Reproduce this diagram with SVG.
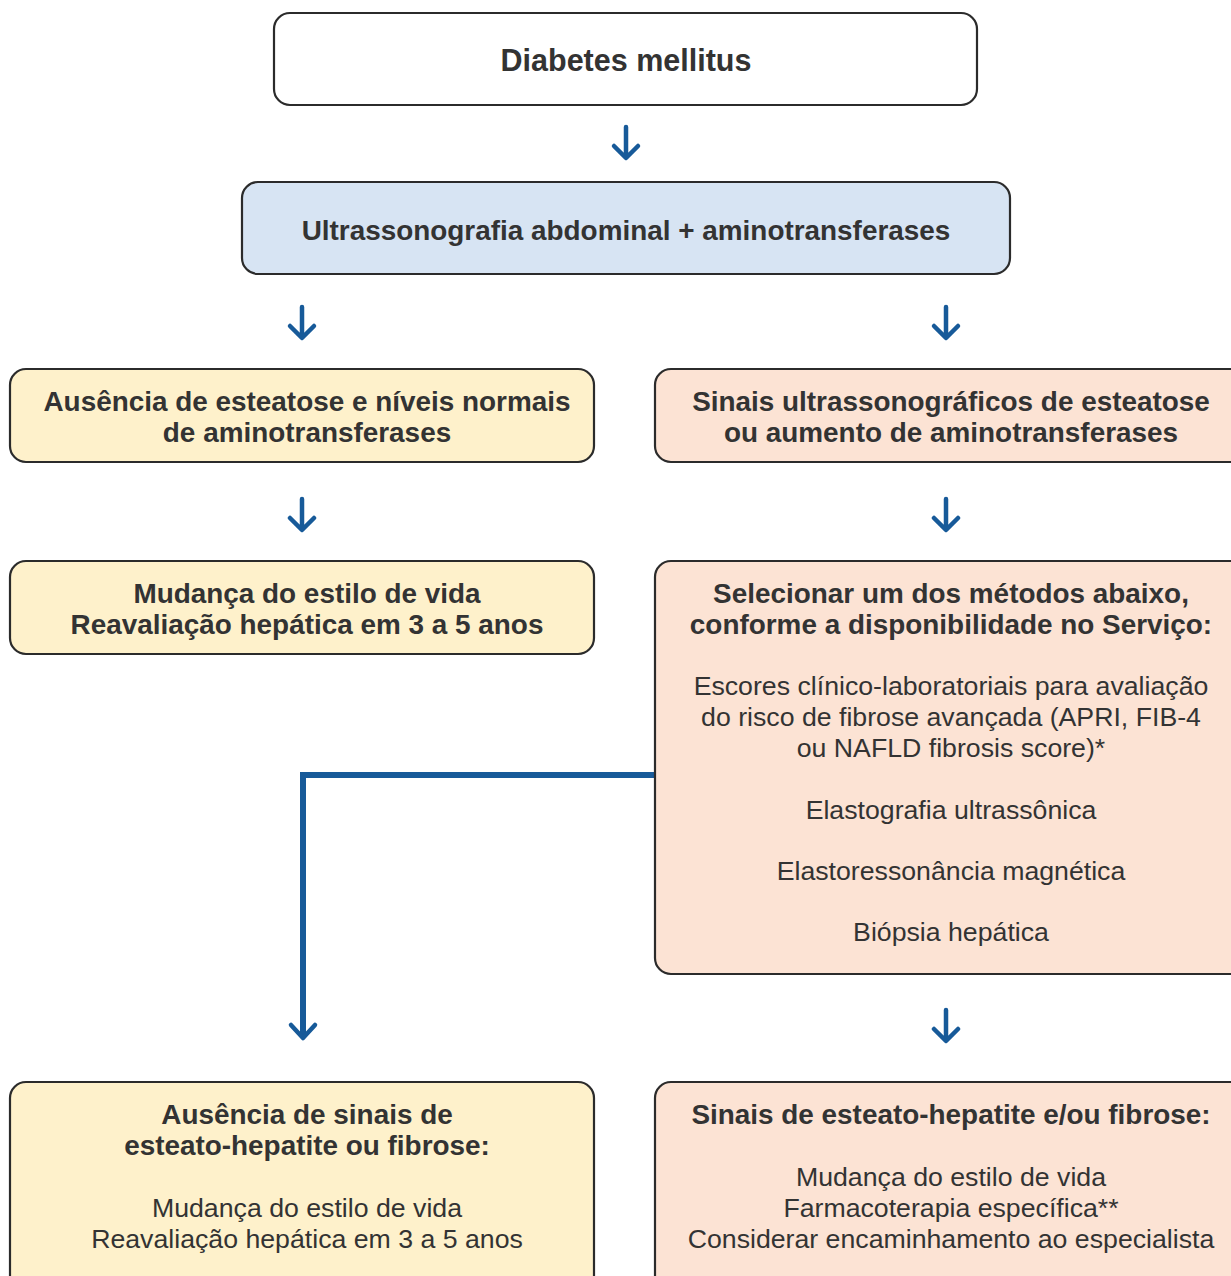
<svg xmlns="http://www.w3.org/2000/svg" width="1231" height="1276" viewBox="0 0 1231 1276">
<style>
.box{stroke:#2b2b2b;stroke-width:2.2}
.white{fill:#ffffff}
.blue{fill:#d7e4f3}
.yellow{fill:#fef1cb}
.peach{fill:#fce3d4}
text{font-family:"Liberation Sans",Arial,sans-serif;fill:#333333;text-anchor:middle}
.b{font-weight:bold;font-size:27.9px}
.r{font-size:26.7px}
.arr{fill:none;stroke:#175a99;stroke-width:4.5;stroke-linecap:round;stroke-linejoin:round}
.conn{fill:none;stroke:#175a99;stroke-width:6}
</style>
<rect width="1231" height="1276" fill="#ffffff"/>
<g id="connectors">
<path class="arr" d="M626 127V157M614 146L626 158L638 146"/>
<path class="arr" d="M302 307V337M290 326L302 338L314 326"/>
<path class="arr" d="M946 307V337M934 326L946 338L958 326"/>
<path class="arr" d="M302 499V529M290 518L302 530L314 518"/>
<path class="arr" d="M946 499V529M934 518L946 530L958 518"/>
<path class="arr" d="M946 1010V1040M934 1029L946 1041L958 1029"/>
<path class="conn" d="M655 775H303V1038"/>
<path class="arr" d="M291 1025L303 1038L315 1025"/>
</g>
<g id="n1">
<rect class="box white" x="274" y="13" width="703" height="92" rx="16"/>
<text class="b" x="626" y="71" style="font-size:30.5px">Diabetes mellitus</text>
</g>
<g id="n2">
<rect class="box blue" x="242" y="182" width="768" height="92" rx="16"/>
<text class="b" x="626" y="240">Ultrassonografia abdominal + aminotransferases</text>
</g>
<g id="n3">
<rect class="box yellow" x="10" y="369" width="584" height="93" rx="16"/>
<text class="b" x="307" y="411">Ausência de esteatose e níveis normais</text>
<text class="b" x="307" y="442">de aminotransferases</text>
</g>
<g id="n4">
<rect class="box peach" x="655" y="369" width="600" height="93" rx="16"/>
<text class="b" x="951" y="411">Sinais ultrassonográficos de esteatose</text>
<text class="b" x="951" y="442">ou aumento de aminotransferases</text>
</g>
<g id="n5">
<rect class="box yellow" x="10" y="561" width="584" height="93" rx="16"/>
<text class="b" x="307" y="603">Mudança do estilo de vida</text>
<text class="b" x="307" y="634">Reavaliação hepática em 3 a 5 anos</text>
</g>
<g id="n6">
<rect class="box peach" x="655" y="561" width="600" height="413" rx="16"/>
<text class="b" x="951" y="603">Selecionar um dos métodos abaixo,</text>
<text class="b" x="951" y="634">conforme a disponibilidade no Serviço:</text>
<text class="r" x="951" y="695">Escores clínico-laboratoriais para avaliação</text>
<text class="r" x="951" y="726">do risco de fibrose avançada (APRI, FIB-4</text>
<text class="r" x="951" y="757">ou NAFLD fibrosis score)*</text>
<text class="r" x="951" y="819">Elastografia ultrassônica</text>
<text class="r" x="951" y="880">Elastoressonância magnética</text>
<text class="r" x="951" y="941">Biópsia hepática</text>
</g>
<g id="n7">
<rect class="box yellow" x="10" y="1082" width="584" height="220" rx="16"/>
<text class="b" x="307" y="1124">Ausência de sinais de</text>
<text class="b" x="307" y="1155">esteato-hepatite ou fibrose:</text>
<text class="r" x="307" y="1217">Mudança do estilo de vida</text>
<text class="r" x="307" y="1248">Reavaliação hepática em 3 a 5 anos</text>
</g>
<g id="n8">
<rect class="box peach" x="655" y="1082" width="600" height="220" rx="16"/>
<text class="b" x="951" y="1124">Sinais de esteato-hepatite e/ou fibrose:</text>
<text class="r" x="951" y="1186">Mudança do estilo de vida</text>
<text class="r" x="951" y="1217">Farmacoterapia específica**</text>
<text class="r" x="951" y="1248">Considerar encaminhamento ao especialista</text>
</g>
</svg>
